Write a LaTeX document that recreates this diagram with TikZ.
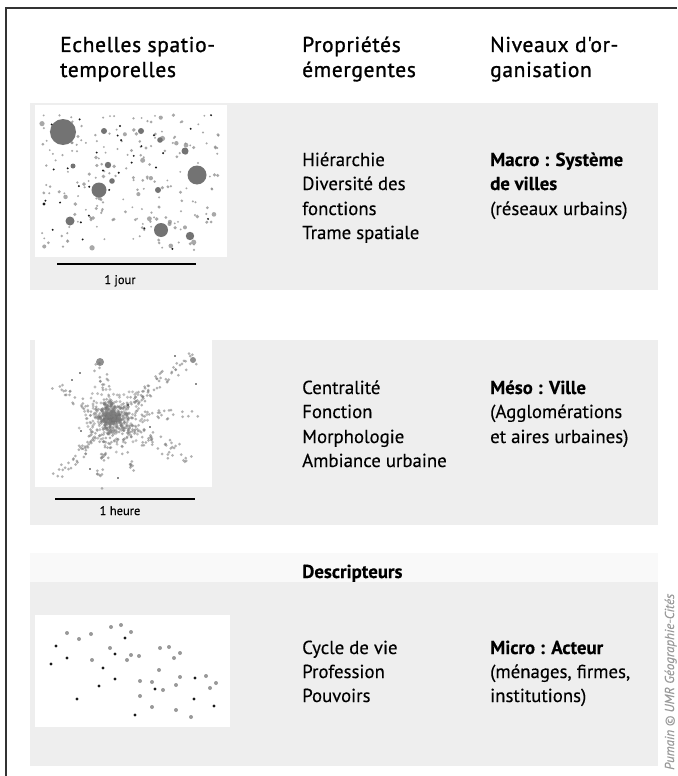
\documentclass[tikz,border=0pt]{standalone}
\usepackage{fontspec}
\setmainfont{PT Sans}[FakeBold=0.3]
\newfontfamily\hdrfont{PT Sans}[FakeBold=1.1, LetterSpace=3]
\begin{document}
\begin{tikzpicture}[x=1pt,y=-1pt,
  hdr/.style={anchor=base west, inner sep=0pt, font=\hdrfont\fontsize{21.5}{21.5}\selectfont},
  txt/.style={anchor=base west, inner sep=0pt, font=\fontsize{18.8}{18.8}\selectfont},
  btxt/.style={txt, font=\fontsize{18.8}{18.8}\selectfont\bfseries},
  small/.style={anchor=base, inner sep=0pt, font=\fontsize{12.5}{12.5}\selectfont},
  panel/.style={fill=gray!13, draw=none},
  mapbg/.style={fill=white, draw=none},
  gdot/.style={fill=black!45},
  bdot/.style={fill=black!90},
  frame/.style={line width=1.3pt, draw=black!80},
  bar/.style={line width=1.4pt, draw=black}]
\useasboundingbox (0,0) rectangle (677,776);
\fill[white] (0,0) rectangle (677,776);
% frame
\draw[frame] (6,776) -- (6,8) -- (677,8);
% panels
\fill[panel] (30,103) rectangle (658,290);
\fill[panel] (30,340) rectangle (658,525);
\fill[gray!5] (30,553) rectangle (658,582);
\fill[panel] (30,582) rectangle (658,766);
% map backgrounds
\fill[mapbg] (35,105) rectangle (227,257);
\fill[mapbg] (35,338) rectangle (212,487);
\fill[mapbg] (35,615) rectangle (230,727);
% headers
\node[hdr] (h1a) at (60,52) {Echelles spatio-};
\node[hdr] (h1b) at (60,77) {temporelles};
\node[hdr] (h2a) at (302,52) {Propriétés};
\node[hdr] (h2b) at (302,77) {émergentes};
\node[hdr] (h3a) at (490,52) {Niveaux d'or-};
\node[hdr] (h3b) at (490,77) {ganisation};
% row 1
\node[txt] (p1a) at (302,166) {Hiérarchie};
\node[txt] (p1b) at (302,190) {Diversité des};
\node[txt] (p1c) at (302,215) {fonctions};
\node[txt] (p1d) at (302,239) {Trame spatiale};
\node[btxt] (n1a) at (490,166) {Macro : Système};
\node[btxt] (n1b) at (490,190) {de villes};
\node[txt] (n1c) at (490,215) {(réseaux urbains)};
% row 2
\node[txt] (p2a) at (302,394) {Centralité};
\node[txt] (p2b) at (302,418) {Fonction};
\node[txt] (p2c) at (302,443) {Morphologie};
\node[txt] (p2d) at (302,467) {Ambiance urbaine};
\node[btxt] (n2a) at (490,394) {Méso : Ville};
\node[txt] (n2b) at (490,418) {(Agglomérations};
\node[txt] (n2c) at (490,443) {et aires urbaines)};
% row 3
\node[btxt] (d3) at (302,578) {Descripteurs};
\node[txt] (p3a) at (302,654) {Cycle de vie};
\node[txt] (p3b) at (302,678) {Profession};
\node[txt] (p3c) at (302,702) {Pouvoirs};
\node[btxt] (n3a) at (490,654) {Micro : Acteur};
\node[txt] (n3b) at (490,678) {(ménages, firmes,};
\node[txt] (n3c) at (490,702) {institutions)};
% credit
\node[rotate=90, anchor=base west, inner sep=0pt, text=gray!80,
      font=\fontsize{13}{13}\selectfont\itshape] (credit) at (674,770)
      {Pumain © UMR Géographie-Cités};
% ---------- map 1 : system of cities
\pgfmathsetseed{11}
\foreach \i in {1,...,220}{
  \pgfmathsetmacro\px{42+178*rnd}
  \pgfmathsetmacro\py{115+135*rnd}
  \pgfmathsetmacro\pr{1.0+1.8*rnd*rnd}
  \fill[gdot, opacity=0.75] (\px,\py) circle[radius=\pr];
}
\foreach \i in {1,...,30}{
  \pgfmathsetmacro\px{42+178*rnd}
  \pgfmathsetmacro\py{115+135*rnd}
  \fill[bdot] (\px,\py) circle[radius=1.1];
}
\foreach \cx/\cy/\cr in {63/132/13, 197/175/9.5, 99/190/7.5, 161/230/7, 70/221/4.5, 190/236/4.2,
   104/131/3, 141/131/3, 108/165/3.2, 185/151/3.5, 158/190/3, 112/181/2.8, 73/166/2.5, 160/140/2.8}{
  \fill[black!55] (\cx,\cy) circle[radius=\cr];
}
\fill[bdot] (44,204) circle[radius=1.6];
\draw[bar] (57,264) -- (196,264);
\node[small] (l1) at (120,284) {1 jour};
% ---------- map 2 : city
\pgfmathsetseed{5}
\foreach \i in {1,...,650}{
  \pgfmathsetmacro\ang{360*rnd}
  \pgfmathsetmacro\rr{42*rnd*rnd}
  \fill[black!55, opacity=0.45] ({112+\rr*cos(\ang)},{418+0.85*\rr*sin(\ang)}) circle[radius=1.6];
}
\foreach \ex/\ey/\n in {193/357/60, 197/413/35, 57/477/60, 53/385/35, 100/485/35, 173/457/40, 200/463/35, 100/365/35, 150/390/30, 135/470/25}{
  \foreach \j in {1,...,\n}{
    \pgfmathsetmacro\t{rnd}
    \pgfmathsetmacro\px{112+\t*(\ex-112)+6*rand}
    \pgfmathsetmacro\py{418+\t*(\ey-418)+6*rand}
    \fill[black!50, opacity=0.6] (\px,\py) circle[radius=1.5];
  }
}
\fill[black!55, opacity=0.8] (100,362) circle[radius=4];
\fill[black!55, opacity=0.8] (193,360) circle[radius=3];
\foreach \px/\py in {72/380, 80/373, 175/356, 196/384, 81/431, 90/469, 118/478, 150/427, 128/405}{
  \fill[bdot] (\px,\py) circle[radius=0.9];
}
\draw[bar] (55,499) -- (195,499);
\node[small] (l2) at (120,515) {1 heure};
% ---------- map 3 : actors
\foreach \px/\py in {67/633, 79/639, 91/634, 111/627, 121/625, 131/632, 110/648, 131/655, 139/656,
   127/660, 92/660, 160/648, 169/647, 180/653, 174/658, 159/670, 140/681, 152/682, 163/690, 176/685,
   180/677, 206/676, 216/683, 210/688, 140/696, 152/707, 176/710, 191/717}{
  \fill[black!40] (\px,\py) circle[radius=2];
}
\foreach \px/\py in {125/638, 56/646, 67/658, 115/654, 51/664, 103/668, 115/679, 99/686, 155/689,
   195/678, 77/699, 194/699, 214/706, 135/715}{
  \fill[bdot] (\px,\py) circle[radius=1.7];
}
\end{tikzpicture}
\end{document}
